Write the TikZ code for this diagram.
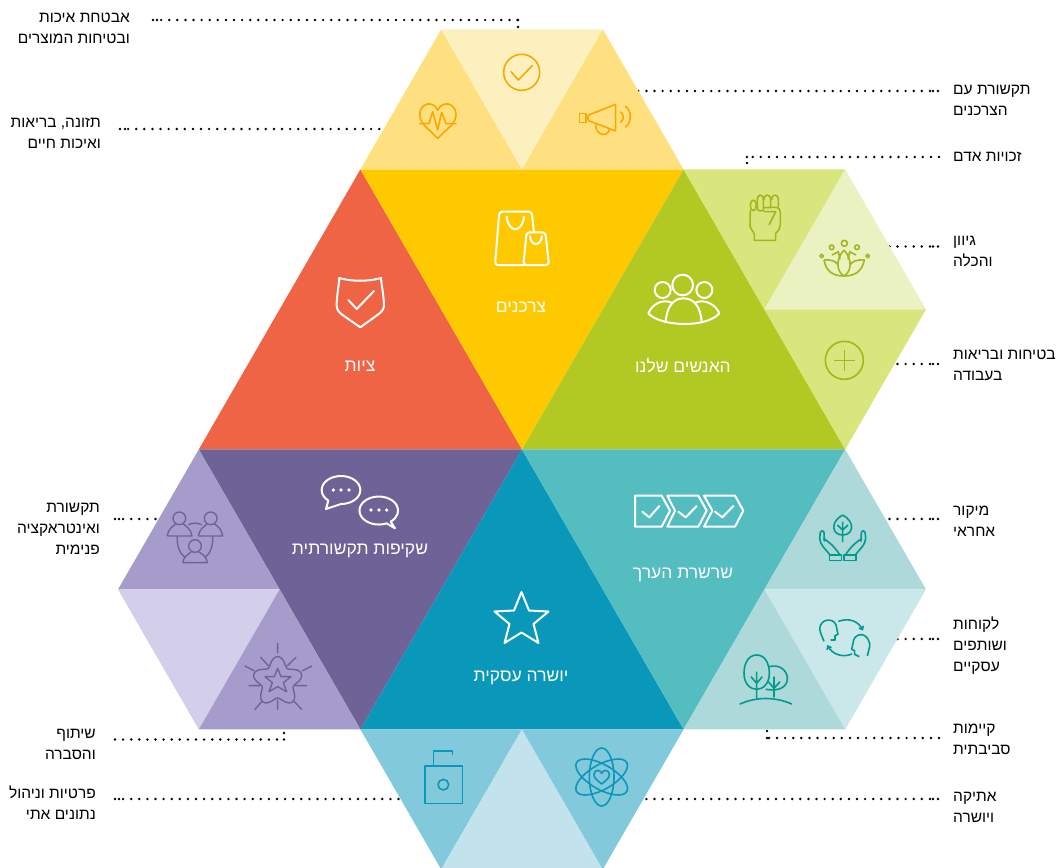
\documentclass[tikz,border=0pt]{standalone}
\usepackage{fontspec}
\usetikzlibrary{arrows.meta}
\TeXXeTstate=1
\newfontfamily\hebfont[Script=Hebrew]{Liberation Sans}
\newcommand{\heb}[1]{\beginR #1\endR}
\definecolor{cRed}{HTML}{EF6444}
\definecolor{cYel}{HTML}{FFC900}
\definecolor{cYelA}{HTML}{FFE080}
\definecolor{cYelB}{HTML}{FDF0BF}
\definecolor{cYelI}{HTML}{F9A800}
\definecolor{cGrn}{HTML}{B1C922}
\definecolor{cGrnA}{HTML}{D9E57D}
\definecolor{cGrnB}{HTML}{EAF2C1}
\definecolor{cGrnI}{HTML}{A3B61F}
\definecolor{cPur}{HTML}{6E6396}
\definecolor{cPurA}{HTML}{A69CCB}
\definecolor{cPurB}{HTML}{D3CFEA}
\definecolor{cBlu}{HTML}{0997BA}
\definecolor{cBluA}{HTML}{82CADB}
\definecolor{cBluB}{HTML}{C2E3EC}
\definecolor{cTea}{HTML}{54BDC0}
\definecolor{cTeaA}{HTML}{ADD9DA}
\definecolor{cTeaB}{HTML}{CAE8EA}
\definecolor{cTeaI}{HTML}{009B8F}
\tikzset{
 leader/.style={line width=2.7pt,line cap=round,dash pattern=on 0pt off 8.1pt,black},
 lab/.style={font=\hebfont\fontsize{15.5}{21}\selectfont,inner sep=0pt,text=black},
 labL/.style={lab,anchor=base east,align=right},
 labR/.style={lab,anchor=base west,align=left},
 mainlab/.style={font=\hebfont\fontsize{17.5}{20}\selectfont,text=white,inner sep=0pt},
 wic/.style={draw=white,line width=2pt,line join=round,line cap=round},
 yic/.style={draw=cYelI,line width=1.6pt,line join=round},
 gic/.style={draw=cGrnI,line width=1.6pt,line join=round},
 picon/.style={draw=cPur,line width=1.4pt,line join=round},
 tic/.style={draw=cTeaI,line width=1.6pt,line join=round},
 bic/.style={draw=cBlu,line width=1.6pt,line join=round},
 zoomed/.style={x=.33333pt,y=-.33333pt},
}
\begin{document}
\begin{tikzpicture}[x=1pt,y=-1pt]
\useasboundingbox (0,0) rectangle (1062,867);
\clip (0,0) rectangle (1062,867);
% ---- leaders (each runs from the label end, with the extra dot beside it; the far ends pass under the triangles)
\coordinate (a1) at (153,20);\coordinate (a2) at (518,20);
\draw[leader] (a1) -- (a2);\fill (157,20) circle (1.35) (518,20) circle (1.35) (518,27) circle (1.35);
\coordinate (b1) at (120,129);\coordinate (b2) at (392,129);\draw[leader] (b1) -- (b2);\fill (125,129) circle (1.35);
\coordinate (c1) at (938,91);\coordinate (c2) at (628,91);\draw[leader] (c1) -- (c2);\fill (933,91) circle (1.35);
\coordinate (d1) at (939,157);\coordinate (d2) at (747,157);\draw[leader] (d1) -- (d2);\fill (747,157) circle (1.35) (747,163) circle (1.35);
\coordinate (e1) at (938,246.5);\coordinate (e2) at (882,246.5);\draw[leader] (e1) -- (e2);\fill (933,246.5) circle (1.35);
\coordinate (f1) at (938,364);\coordinate (f2) at (888,364);\draw[leader] (f1) -- (f2);\fill (933,364) circle (1.35);
\coordinate (g1) at (938,519);\coordinate (g2) at (878,519);\draw[leader] (g1) -- (g2);\fill (933,519) circle (1.35);
\coordinate (h1) at (938,639);\coordinate (h2) at (888,639);\draw[leader] (h1) -- (h2);\fill (933,639) circle (1.35);
\coordinate (i1) at (939,738);\coordinate (i2) at (767,738);\draw[leader] (i1) -- (i2);\fill (767,738) circle (1.35) (767,731) circle (1.35);
\coordinate (j1) at (938,799);\coordinate (j2) at (632,799);\draw[leader] (j1) -- (j2);\fill (933,799) circle (1.35);
\coordinate (k1) at (115,519);\coordinate (k2) at (168,519);\draw[leader] (k1) -- (k2);\fill (119,519) circle (1.35);
\coordinate (l1) at (115,739.5);\coordinate (l2) at (284,739.5);\draw[leader] (l1) -- (l2);\fill (284,739.5) circle (1.35) (284,733) circle (1.35);
\coordinate (m1) at (115,799);\coordinate (m2) at (410,799);\draw[leader] (m1) -- (m2);\fill (119,799) circle (1.35);
% ---- lattice of the triangles
\foreach \k/\cx in {0/118,1/198.8,2/279.6,3/360.4,4/441.2,5/522,6/602.8,7/683.6,8/764.4,9/845.2,10/926}{
 \foreach \r/\cy in {0/29.4,1/169.4,2/309.4,3/449.4,4/589.4,5/729.4,6/869.4}{
  \coordinate (p\k-\r) at (\cx,\cy);
 }
}
% ---- main triangles
\fill[cRed] (p3-1)--(p1-3)--(p5-3)--cycle;
\fill[cYel] (p3-1)--(p7-1)--(p5-3)--cycle;
\fill[cGrn] (p7-1)--(p5-3)--(p9-3)--cycle;
\fill[cPur] (p1-3)--(p5-3)--(p3-5)--cycle;
\fill[cBlu] (p5-3)--(p3-5)--(p7-5)--cycle;
\fill[cTea] (p5-3)--(p9-3)--(p7-5)--cycle;
% ---- small triangles
\fill[cYelA] (p4-0)--(p3-1)--(p5-1)--cycle;
\fill[cYelB] (p4-0)--(p6-0)--(p5-1)--cycle;
\fill[cYelA] (p6-0)--(p5-1)--(p7-1)--cycle;
\fill[cGrnA] (p7-1)--(p9-1)--(p8-2)--cycle;
\fill[cGrnB] (p9-1)--(p8-2)--(p10-2)--cycle;
\fill[cGrnA] (p8-2)--(p10-2)--(p9-3)--cycle;
\fill[cTeaA] (p9-3)--(p8-4)--(p10-4)--cycle;
\fill[cTeaB] (p8-4)--(p10-4)--(p9-5)--cycle;
\fill[cTeaA] (p8-4)--(p7-5)--(p9-5)--cycle;
\fill[cBluA] (p3-5)--(p5-5)--(p4-6)--cycle;
\fill[cBluB] (p5-5)--(p4-6)--(p6-6)--cycle;
\fill[cBluA] (p5-5)--(p7-5)--(p6-6)--cycle;
\fill[cPurA] (p1-3)--(p0-4)--(p2-4)--cycle;
\fill[cPurB] (p0-4)--(p2-4)--(p1-5)--cycle;
\fill[cPurA] (p2-4)--(p1-5)--(p3-5)--cycle;
% ---- main labels
\node[mainlab] (nCons) at (521,307) {\heb{צרכנים}};
\node[mainlab] (nComp) at (360,366) {\heb{ציות}};
\node[mainlab] (nPeop) at (683,366) {\heb{האנשים שלנו}};
\node[mainlab] (nTran) at (360,551) {\heb{שקיפות תקשורתית}};
\node[mainlab] (nVal) at (683,575) {\heb{שרשרת הערך}};
\node[mainlab] (nInt) at (521,678) {\heb{יושרה עסקית}};
% ---- outer labels (anchored on the baseline of the last line)
\node[labL] (t1) at (130,43.5) {\heb{אבטחת איכות}\\\heb{ובטיחות המוצרים}};
\node[labL] (t2) at (101,148) {\heb{תזונה, בריאות}\\\heb{ואיכות חיים}};
\node[labR] (t3) at (953,115) {\heb{תקשורת עם}\\\heb{הצרכנים}};
\node[labR] (t4) at (953,161) {\heb{זכויות אדם}};
\node[labR] (t5) at (953,266) {\heb{גיוון}\\\heb{והכלה}};
\node[labR] (t6) at (953,380) {\heb{בטיחות ובריאות}\\\heb{בעבודה}};
\node[labR] (t7) at (953,536) {\heb{מיקור}\\\heb{אחראי}};
\node[labR] (t8) at (953,671) {\heb{לקוחות}\\\heb{ושותפים}\\\heb{עסקיים}};
\node[labR] (t9) at (953,754) {\heb{קיימות}\\\heb{סביבתית}};
\node[labR] (t10) at (953,822) {\heb{אתיקה}\\\heb{ויושרה}};
\node[labL] (t11) at (100,554) {\heb{תקשורת}\\\heb{ואינטראקציה}\\\heb{פנימית}};
\node[labL] (t12) at (96,759) {\heb{שיתוף}\\\heb{והסברה}};
\node[labL] (t13) at (96,819) {\heb{פרטיות וניהול}\\\heb{נתונים אתי}};
% ---- yellow icons (zoom 1 origin 350,0)
\begin{scope}[shift={(350,0)},zoomed]
 \draw[yic] (515,217) circle (54);
 \draw[yic,line cap=round] (483,215)--(505,240)--(548,196);
 % heart
 \draw[yic] (222,375)--(263,415)--(305,375) (222,375) .. controls (205,355) and (205,330) .. (220,318) .. controls (235,305) and (255,312) .. (263,330) .. controls (272,312) and (292,305) .. (307,318) .. controls (322,330) and (322,355) .. (305,375);
 \draw[yic] (207,371)--(237,371)--(248,335)--(263,390)--(275,337)--(288,371)--(320,371);
 % megaphone
 \draw[yic] (688,340) rectangle (708,367);
 \draw[yic] (716,345)--(797,313)--(797,393)--(716,362) .. controls (712,357) and (712,350) .. (716,345);
 \draw[yic] (737,373) .. controls (736,410) and (778,412) .. (778,386);
 \draw[yic] (811,335) .. controls (823,345) and (823,358) .. (811,368);
 \draw[yic] (826,318) .. controls (846,335) and (846,365) .. (826,382);
\end{scope}
% ---- green icons (zoom 2 origin 620,170)
\begin{scope}[shift={(620,170)},zoomed]
 \draw[gic] (391,120) -- (390,165) .. controls (390,178) and (403,185) .. (403,195) -- (403,211) -- (467,211) -- (467,190) .. controls (475,182) and (481,175) .. (481,165) -- (481,128) .. controls (481,118) and (475,112) .. (465,112) -- (432,113);
 \draw[gic] (400,90) .. controls (388,90) and (388,122) .. (400,122) .. controls (412,122) and (412,90) .. (400,90);
 \draw[gic] (412,115) -- (412,90) .. controls (412,70) and (430,70) .. (430,90) -- (430,122) .. controls (425,122) and (412,125) .. (412,115);
 \draw[gic] (432,90) .. controls (432,70) and (452,70) .. (452,90) -- (452,113);
 \draw[gic] (455,90) .. controls (455,70) and (475,70) .. (475,90) -- (475,113);
 \draw[gic] (432,125) -- (467,125) -- (447,165);
 % lotus
 \draw[gic] (672,240) .. controls (645,270) and (650,305) .. (672,318) .. controls (694,305) and (699,270) .. (672,240);
 \draw[gic] (612,270) .. controls (635,268) and (650,275) .. (654,285) (612,270) .. controls (618,305) and (640,318) .. (672,318) .. controls (704,318) and (726,305) .. (733,270) .. controls (710,268) and (695,275) .. (690,285);
 \draw[gic] (636,255) -- (655,245) -- (660,268) (708,255) -- (689,245) -- (684,268);
 \draw[gic] (673,220) circle (9) (635,232) circle (7) (711,232) circle (7) (605,258) circle (5.5) (743,258) circle (5.5);
 % plus
 \draw[gic] (673,571) circle (57);
 \draw[gic] (642,571)--(705,571) (673,540)--(673,602);
 % people
 \draw[wic] (188,345) circle (31) (128,360) circle (24) (253,360) circle (24);
 \draw[wic] (137,457) .. controls (140,410) and (160,385) .. (190,385) .. controls (222,385) and (242,410) .. (245,457);
 \draw[wic] (155,398) .. controls (125,385) and (95,405) .. (85,430) .. controls (120,470) and (260,475) .. (298,430) .. controls (288,405) and (255,385) .. (225,398);
\end{scope}
% ---- main icons
\begin{scope}[shift={(310,200)},zoomed]
 \draw[wic] (88,234) .. controls (125,245) and (175,245) .. (213,234) .. controls (215,260) and (222,290) .. (222,318) .. controls (220,330) and (215,335) .. (205,343) -- (151,382) -- (95,343) .. controls (85,335) and (80,328) .. (80,315) .. controls (80,290) and (86,260) .. (88,234) -- cycle;
 \draw[wic] (115,300)--(140,327)--(192,273);
 % bags
 \draw[wic,rounded corners=3pt] (640,195) -- (555,195) -- (568,35) -- (665,35) -- (672,97);
 \draw[wic,rounded corners=3pt] (640,195) -- (717,195) -- (706,97) -- (650,97) -- cycle;
 \draw[wic] (590,50) .. controls (595,100) and (637,100) .. (642,50);
 \draw[wic] (660,108) .. controls (662,140) and (693,140) .. (696,108);
\end{scope}
\begin{scope}[shift={(110,460)},zoomed]
 % speech
 \draw[wic] (693,132) arc[start angle=90,end angle=-229,x radius=58,y radius=42] -- (648,147) -- cycle;
 \fill[white] (670,90) circle (5.5) (693,90) circle (5.5) (717,90) circle (5.5);
 \draw[wic] (830,190) arc[start angle=66,end angle=412,x radius=58,y radius=42] -- (855,205) -- cycle;
 \fill[white] (783,150) circle (5.5) (807,150) circle (5.5) (830,150) circle (5.5);
 % people trio
 \draw[picon] (208,175) circle (19) (302,175) circle (19) (255,258) circle (19);
 \draw[picon] (172,228) .. controls (175,205) and (190,198) .. (197,192) (220,192) .. controls (230,200) and (243,208) .. (246,228) -- (172,228);
 \draw[picon] (265,228) .. controls (268,208) and (282,200) .. (291,192) (314,192) .. controls (325,200) and (335,208) .. (338,228) -- (265,228);
 \draw[picon] (218,308) .. controls (221,290) and (235,282) .. (244,276) (266,276) .. controls (278,282) and (290,290) .. (292,308) -- (218,308);
 \draw[picon] (235,194) .. controls (248,188) and (262,188) .. (275,194);
 \draw[picon] (202,228) .. controls (200,255) and (208,280) .. (225,292);
 \draw[picon] (308,228) .. controls (310,255) and (302,280) .. (285,292);
 % star burst
 \draw[picon] (503,625)--(513,650)--(543,650)--(520,668)--(530,695)--(503,680)--(477,695)--(487,668)--(465,650)--(493,650)--cycle;
 \draw[picon] plot[domain=0:360,samples=121,smooth] ({503+(62+13*cos(5*(\x+90)))*cos(\x)},{665+(62+13*cos(5*(\x+90)))*sin(\x)}) -- cycle;
 \draw[picon,line cap=round] (503,550)--(503,578) (452,592)--(475,617) (558,592)--(532,617) (405,618)--(432,632) (605,618)--(578,632) (417,677)--(450,677) (590,677)--(555,677) (435,748)--(455,725) (575,748)--(553,725) (503,748)--(503,720);
\end{scope}
% ---- teal icons (zoom 4 origin 620,480)
\begin{scope}[shift={(620,480)},zoomed]
 \draw[wic] (45,47)--(125,47)--(150,92)--(125,140)--(45,140)--cycle;
 \draw[wic] (142,47)--(235,47)--(260,92)--(235,140)--(142,140)--(165,92)--cycle;
 \draw[wic] (252,47)--(345,47)--(370,92)--(345,140)--(252,140)--(277,92)--cycle;
 \draw[wic] (67,95)--(88,112)--(118,78) (175,95)--(197,112)--(230,78) (285,95)--(307,112)--(340,78);
 % leaf and hands
 \draw[tic] (668,105) .. controls (630,125) and (635,165) .. (668,165) .. controls (701,165) and (706,125) .. (668,105);
 \draw[tic] (668,125) -- (668,186) (652,135)--(668,150)--(684,135);
 \foreach \sgn/\ofs in {1/0,-1/1336}{
  \begin{scope}[shift={(\ofs,0)},xscale=\sgn]
   \draw[tic] (628,225) rectangle (664,241);
   \draw[tic] (630,225) .. controls (615,205) and (600,195) .. (599,175) -- (601,157) .. controls (603,150) and (610,150) .. (612,157) -- (613,185) (610,175) .. controls (625,185) and (640,195) .. (660,225);
  \end{scope}
 }
 % heads
 \draw[tic] (612,484) .. controls (605,465) and (595,450) .. (601,437) .. controls (610,412) and (650,415) .. (650,445) -- (654,463) -- (645,467) -- (645,480) -- (632,480);
 \draw[tic] (742,528) .. controls (745,510) and (755,495) .. (745,480) .. controls (735,455) and (700,460) .. (699,490) -- (695,508) -- (704,512) -- (704,523) -- (718,530);
 \draw[tic,-{Straight Barb[length=3pt,width=5pt]}] (655,424) .. controls (690,412) and (715,425) .. (729,452);
 \draw[tic,-{Straight Barb[length=3pt,width=5pt]}] (696,522) .. controls (665,535) and (635,520) .. (622,495);
 % trees
 \draw[tic] (410,525) .. controls (385,525) and (372,550) .. (372,580) .. controls (372,610) and (390,628) .. (410,628) .. controls (430,628) and (448,610) .. (448,580) .. controls (448,550) and (435,525) .. (410,525);
 \draw[tic] (445,561) .. controls (475,550) and (502,570) .. (502,595) .. controls (502,620) and (480,635) .. (437,628);
 \draw[tic] (410,575)--(410,656) (393,590)--(410,610)--(427,590);
 \draw[tic] (462,590)--(462,652) (445,605)--(462,625)--(480,605);
 \draw[tic,line cap=round] (360,672) .. controls (410,650) and (465,650) .. (515,672);
\end{scope}
% ---- blue icons (zoom 5 origin 400,730)
\begin{scope}[shift={(400,730)},zoomed]
 \draw[bic] (75,108) rectangle (187,220);
 \draw[bic] (130,164) circle (16);
 \draw[bic] (100,108)--(100,63)--(158,63)--(158,75);
 \draw[bic] (605,141) ellipse (37 and 87);
 \draw[bic,rotate around={60:(605,141)}] (605,141) ellipse (37 and 87);
 \draw[bic,rotate around={-60:(605,141)}] (605,141) ellipse (37 and 87);
 \draw[bic] (605,162) .. controls (590,150) and (580,142) .. (582,132) .. controls (585,118) and (600,118) .. (605,130) .. controls (610,118) and (625,118) .. (628,132) .. controls (630,142) and (620,150) .. (605,162) -- cycle;
\end{scope}
% ---- star of the blue triangle
\draw[wic] (521.5,592) -- (529,610.5) -- (548.5,611.5) -- (533.5,624) -- (538.5,643) -- (521.5,632.5) -- (504.5,643) -- (509.5,624) -- (494.5,611.5) -- (514,610.5) -- cycle;
\end{tikzpicture}
\end{document}
